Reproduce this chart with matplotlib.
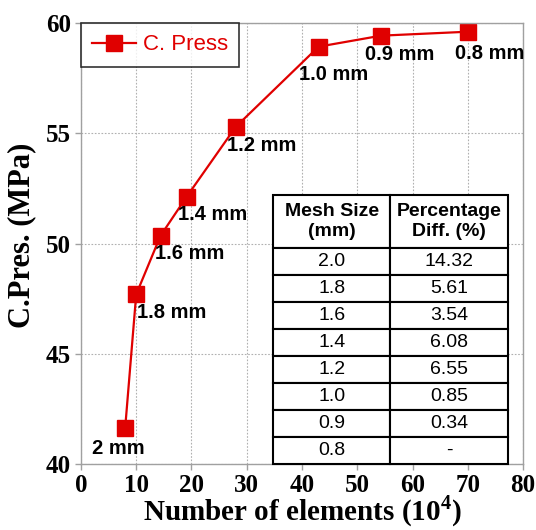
import matplotlib
matplotlib.use('Agg')
import matplotlib.pyplot as plt

# mesh convergence data
mesh_labels = ['2 mm', '1.8 mm', '1.6 mm', '1.4 mm', '1.2 mm', '1.0 mm', '0.9 mm', '0.8 mm']
n_elements = [8.0, 10.0, 14.4, 19.1, 28.0, 43.0, 54.3, 70.1]
c_press = [41.63, 47.70, 50.36, 52.12, 55.30, 58.94, 59.44, 59.62]

# label offsets in pixels (dx, dy)
label_offsets = [(-7, -20), (1, -18), (-6, -18), (-9, -18),
                 (-9, -19), (-20, -28), (-16, -19), (-13, -22)]

table_header = ['Mesh Size\n(mm)', 'Percentage\nDiff. (%)']
table_mesh = ['2.0', '1.8', '1.6', '1.4', '1.2', '1.0', '0.9', '0.8']
table_diff = ['14.32', '5.61', '3.54', '6.08', '6.55', '0.85', '0.34', '-']

red = '#e00000'
serif = 'Liberation Serif'
sans = 'Liberation Sans'

fig = plt.figure(figsize=(5.36, 5.30), dpi=100)
ax = fig.add_axes([0.151, 0.1245, 0.825, 0.8315])

ax.plot(n_elements, c_press, color=red, lw=1.6, marker='s', ms=11,
        mec=red, mfc=red, label='C. Press')

for lab, x, y, (dx, dy) in zip(mesh_labels, n_elements, c_press, label_offsets):
    ha = 'center' if lab == '2 mm' else 'left'
    ax.annotate(lab, (x, y), xytext=(dx, dy), textcoords='offset pixels',
                ha=ha, va='center', fontsize=14.5, fontweight='bold',
                family=sans, color='black')

ax.set_xlim(0, 80)
ax.set_ylim(40, 60)
ax.set_xticks(range(0, 81, 10))
ax.set_yticks(range(40, 61, 5))
ax.grid(True, color='#b0b0b0', ls=(0, (1.5, 1.5)), lw=0.8)
for s in ax.spines.values():
    s.set_color('#a0a0a0')
    s.set_linewidth(1.0)
ax.tick_params(length=4, width=1, color='#a0a0a0', pad=3)
for t in ax.get_xticklabels() + ax.get_yticklabels():
    t.set_family(serif)
    t.set_fontweight('bold')
    t.set_fontsize(18)

ax.set_xlabel('Number of elements (10$^\\mathregular{4}$)', family=serif,
              fontweight='bold', fontsize=21, labelpad=1)
ax.xaxis.set_label_coords(0.5, -0.066)
ax.set_ylabel('C.Pres. (MPa)', family=serif, fontweight='bold',
              fontsize=22)
ax.yaxis.set_label_coords(-0.10, 0.52)

leg = ax.legend(loc='upper left', prop={'family': sans, 'size': 16},
                frameon=True, fancybox=False, borderaxespad=0,
                handlelength=2.0, handletextpad=0.3, borderpad=0.5)
leg.get_frame().set_edgecolor('black')
leg.get_frame().set_linewidth(1.2)
for txt in leg.get_texts():
    txt.set_color(red)

# inset table
cell_text = [[m, d] for m, d in zip(table_mesh, table_diff)]
tbl = ax.table(cellText=cell_text, colLabels=table_header,
               cellLoc='center', bbox=[0.434, 0.0, 0.532, 0.61], zorder=5)
tbl.auto_set_font_size(False)
head_h = 0.120
row_h = (0.61 - head_h) / len(table_mesh)
for (r, c), cell in tbl.get_celld().items():
    cell.set_linewidth(1.5)
    cell.set_edgecolor('black')
    cell.set_facecolor('white')
    cell.set_height(head_h if r == 0 else row_h)
    cell.get_text().set_family(sans)
    cell.get_text().set_fontsize(14)
    if r == 0:
        cell.get_text().set_fontweight('bold')
        cell.get_text().set_linespacing(1.2)

fig.savefig('out.png', dpi=100)
